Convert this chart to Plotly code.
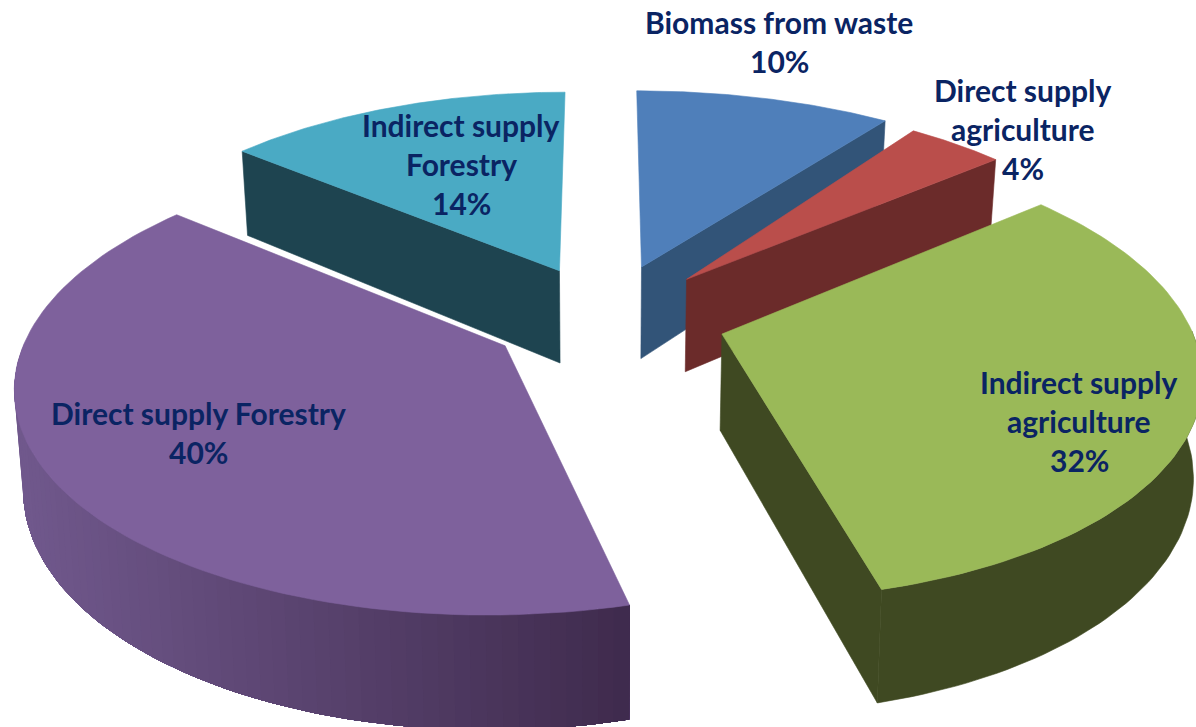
import numpy as np
import plotly.graph_objects as go

# ---- data ----
categories = ["Biomass from waste", "Direct supply agriculture", "Indirect supply agriculture",
              "Direct supply Forestry", "Indirect supply Forestry"]
values = [10, 4, 32, 40, 14]

# ---- styling / layout ----
label_lines = [["Biomass from waste"], ["Direct supply", "agriculture"], ["Indirect supply", "agriculture"],
               ["Direct supply Forestry"], ["Indirect supply", "Forestry"]]
label_x = [779, 1023, 1079, 198, 461]
label_y = [22, 90, 382, 413, 125]
line_gap = 39
top_colors = ["#4F7FBA", "#BA4E4B", "#9AB958", "#7E619C", "#4AAAC4"]
wall_colors = ["#325478", "#6B2B2A", "#3F4922", "#5F4A78", "#1E4450"]
explode = [0.25, 0.25, 0.25, 0.225, 0.21]
radius_x = [1.0, 0.945, 0.95, 0.965, 0.96]
nudge_x = [5, 5, 4, 0, 2]
nudge_y = [0, 1, 0, 2, -6]
draw_order = [4, 0, 1, 3, 2]

CX, CY = 600, 317
SX, SY = 490, 218
PERSP = 0.156
DEPTH = 95
CONVERGE = 0.015


def project(X, Y, nx=0, ny=0):
    w = 1 + PERSP * Y
    px = CX + X * SX / w + nx
    py = CY - Y * SY / w + ny
    bx = CX + (px - CX) * (1 - CONVERGE)
    by = py + DEPTH / w
    return px, py, bx, by


total = sum(values)
edges = np.cumsum([0] + values) / total * 2 * np.pi
fig = go.Figure()


def poly(xs, ys, color, lw=0.6):
    fig.add_trace(go.Scatter(x=list(xs) + [xs[0]], y=list(ys) + [ys[0]], mode="lines", fill="toself",
                             fillcolor=color, line=dict(color=color, width=lw),
                             hoverinfo="skip", showlegend=False))


def lerp_rgb(t, a, b):
    return "rgb(%d,%d,%d)" % tuple(round(a[i] + (b[i] - a[i]) * t) for i in range(3))


for i in draw_order:
    a0, a1 = edges[i], edges[i + 1]
    mid = (a0 + a1) / 2
    ex, ey = explode[i] * np.sin(mid), explode[i] * np.cos(mid)
    t = np.linspace(a0, a1, 90)
    X = np.concatenate([[ex], ex + radius_x[i] * np.sin(t)])
    Y = np.concatenate([[ey], ey + np.cos(t)])
    px, py, bx, by = project(X, Y, nudge_x[i], nudge_y[i])
    name = categories[i]

    # radial wall facing the viewer
    if name != "Direct supply Forestry":
        a, b = (0, 1) if name == "Indirect supply Forestry" else (0, len(px) - 1)
        poly([px[a], px[b], bx[b], bx[a]], [py[a], py[b], by[b], by[a]], wall_colors[i])

    # outer rim: part turned to the viewer, painted band over band for the shading
    vis = np.where(np.cos(t) < 0.02)[0] + 1
    if name == "Indirect supply agriculture":
        poly(list(px[vis]) + list(bx[vis][::-1]), list(py[vis]) + list(by[vis][::-1]), wall_colors[i])
    elif name == "Direct supply Forestry":
        order = vis[::-1]              # from the left side to the front
        for k in range(0, len(order) - 1):
            tail = order[k:]
            f = np.clip((px[order[k]] - 20) / 610, 0, 1)
            col = lerp_rgb(f, (112, 88, 140), (62, 42, 76))
            poly(list(px[tail]) + list(bx[tail][::-1]), list(py[tail]) + list(by[tail][::-1]), col, lw=0)

    # top face
    poly(px, py, top_colors[i])

annotations = []
for i, lines in enumerate(label_lines):
    for k, line in enumerate(lines + [f"{values[i]}%"]):
        annotations.append(dict(x=label_x[i], y=label_y[i] + k * line_gap, text=line, showarrow=False,
                                xref="x", yref="y", xanchor="center", yanchor="middle",
                                font=dict(family="Lato", size=30, color="#0A2463", weight="bold")))

fig.update_layout(
    width=1196, height=727, autosize=False,
    margin=dict(l=0, r=0, t=0, b=0),
    paper_bgcolor="white", plot_bgcolor="white",
    xaxis=dict(range=[0, 1196], visible=False, fixedrange=True),
    yaxis=dict(range=[727, 0], visible=False, fixedrange=True),
    annotations=annotations, showlegend=False,
)
fig.write_html("out.html", config=dict(displayModeBar=False), post_script="document.body.style.margin='0';")
